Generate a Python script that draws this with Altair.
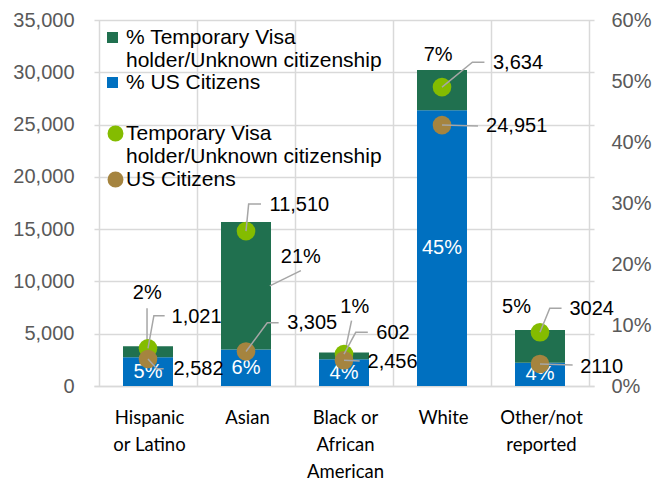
import altair as alt
import pandas as pd

# ---------------- data ----------------
categories = ["Hispanic or Latino", "Asian", "Black or African American", "White", "Other/not reported"]
x_tick_lines = [["Hispanic", "or Latino"], ["Asian"], ["Black or", "African", "American"], ["White"], ["Other/not", "reported"]]

us_counts = [2582, 3305, 2456, 24951, 2110]
tv_counts = [1021, 11510, 602, 3634, 3024]
us_count_labels = ["2,582", "3,305", "2,456", "24,951", "2110"]
tv_count_labels = ["1,021", "11,510", "602", "3,634", "3024"]

us_pct = [4.7, 6.0, 4.4, 45.2, 3.8]
tv_pct = [1.8, 20.9, 1.1, 6.6, 5.4]
us_pct_labels = ["5%", "6%", "4%", "45%", "4%"]
tv_pct_labels = ["2%", "21%", "1%", "7%", "5%"]

S_TV_PCT = "% Temporary Visa\nholder/Unknown citizenship"
S_US_PCT = "% US Citizens"
S_TV = "Temporary Visa\nholder/Unknown citizenship"
S_US = "US Citizens"

y_left_ticks = [0, 5000, 10000, 15000, 20000, 25000, 30000, 35000]
y_right_ticks = [0, 10, 20, 30, 40, 50, 60]

# ---------------- layout (pixel offsets of callouts, styling only) ----------------
W, H = 500, 366
N = len(categories)
kx = N / W
kl = y_left_ticks[-1] / H
kr = y_right_ticks[-1] / H

tv_count_lab_off = [(24, -31), (24, -26), (33, -21), (52, -24), (30, -23)]
us_count_lab_off = [(26, 10.5), (42, -28), (24, 1.4), (45, 0.9), (41, 3.4)]
tv_leader = [[(17, -32.6), (6, -32.6), (0, 0)], [(15.3, -27), (2.7, -27), (0, 0)],
             [(24.3, -21.7), (12, -21.7), (0, 0)], [(43.3, -24.8), (31, -24.8), (0, 0)],
             [(22, -24), (10, -24), (0, 0)]]
us_leader = [[(16, 9.8), (9, 9.8), (0, 0)], [(33.3, -28.7), (21.7, -28.7), (0, 0)],
             [(16, 0.7), (0, 0)], [(36.7, 0.9), (0, 0)], [(33.3, 1), (0, 0)]]
tv_pct_lab_off = [(-0.7, -53), (56, 34.7), (11, -45), (-4, -15), (-24, -23)]
pct_leader = {0: [(-1, -38), (-1, 0)], 1: [(56, 48.7), (24.3, 64)], 2: [(7.7, -31.8), (1, -0.8)]}

C_DKGREEN = "#20704F"
C_BLUE = "#0070C0"
C_LTGREEN = "#84BC00"
C_BROWN = "#A5843F"
C_LEADER = "#A6A6A6"
C_GRID = "#D9D9D9"
FONT = "Liberation Sans"

# ---------------- tables ----------------
bars, pct_text, pts, cnt_text, lead_l, lead_r = [], [], [], [], [], []
for i, c in enumerate(categories):
    xc = i + 0.5
    top = us_pct[i] + tv_pct[i]
    bars.append(dict(x=xc, y0=0, y1=us_pct[i], series=S_US_PCT))
    bars.append(dict(x=xc, y0=us_pct[i], y1=top, series=S_TV_PCT))
    pct_text.append(dict(x=xc, y=us_pct[i] / 2, t=us_pct_labels[i], kind="us"))
    dx, dy = tv_pct_lab_off[i]
    pct_text.append(dict(x=xc + dx * kx, y=top - dy * kr, t=tv_pct_labels[i], kind="tv"))
    for j, (px, py) in enumerate(pct_leader.get(i, [])):
        lead_r.append(dict(id=f"p{i}", seq=j, x=xc + px * kx, y=top - py * kr))

    tv_y = us_counts[i] + tv_counts[i]
    us_y = us_counts[i]
    pts.append(dict(x=xc, y=tv_y, series=S_TV))
    pts.append(dict(x=xc, y=us_y, series=S_US))
    dx, dy = tv_count_lab_off[i]
    cnt_text.append(dict(x=xc + dx * kx, y=tv_y - dy * kl, t=tv_count_labels[i]))
    dx, dy = us_count_lab_off[i]
    cnt_text.append(dict(x=xc + dx * kx, y=us_y - dy * kl, t=us_count_labels[i]))
    for j, (px, py) in enumerate(tv_leader[i]):
        lead_l.append(dict(id=f"t{i}", seq=j, x=xc + px * kx, y=tv_y - py * kl))
    for j, (px, py) in enumerate(us_leader[i]):
        lead_l.append(dict(id=f"u{i}", seq=j, x=xc + px * kx, y=us_y - py * kl))

bars_df = pd.DataFrame(bars)
pct_df = pd.DataFrame(pct_text)
pts_df = pd.DataFrame(pts)
cnt_df = pd.DataFrame(cnt_text)
lead_l_df = pd.DataFrame(lead_l)
lead_r_df = pd.DataFrame(lead_r)

# ---------------- scales / axes ----------------
label_js = "[" + ",".join("[" + ",".join("'" + s + "'" for s in lines) + "]" for lines in x_tick_lines) + "]"
x_axis = alt.Axis(values=list(range(N + 1)), grid=True, gridColor=C_GRID, gridWidth=1.5,
                  domainColor=C_GRID, domainWidth=1.5, ticks=False, title=None,
                  labelExpr=f"{label_js}[datum.value] || ''", labelOffset=W / N / 2,
                  labelFlush=False, labelOverlap=False, labelBound=False,
                  labelFont="Lato", labelFontSize=18.5, labelColor="black",
                  labelLineHeight=27, labelBaseline="top", labelPadding=22, labelAlign="center")
x_scale = alt.Scale(domain=[0, N], nice=False, zero=False)


def X(f):
    return alt.X(f"{f}:Q", scale=x_scale, axis=x_axis)


yl_scale = alt.Scale(domain=[0, y_left_ticks[-1]], nice=False)
yl_axis = alt.Axis(values=y_left_ticks, labelExpr="format(datum.value, ',')", grid=True,
                   gridColor=C_GRID, gridWidth=1.5,
                   domain=False, ticks=False, title=None, orient="left",
                   labelFont=FONT, labelFontSize=20, labelColor="#595959", labelPadding=20)
yr_scale = alt.Scale(domain=[0, y_right_ticks[-1]], nice=False)
yr_axis = alt.Axis(values=y_right_ticks, labelExpr="datum.value + '%'", grid=False,
                   domain=False, ticks=False, title=None, orient="right",
                   labelFont=FONT, labelFontSize=20, labelColor="#595959", labelPadding=17)

bar_legend = alt.Legend(title=None, orient="none", legendX=8, legendY=7, symbolType="square",
                        symbolSize=121, symbolStrokeWidth=0, labelFont=FONT, labelFontSize=21,
                        labelColor="black", labelLimit=600, labelOffset=3, rowPadding=0,
                        padding=0, labelExpr="split(datum.label, '\\n')")
pt_legend = alt.Legend(title=None, orient="none", legendX=11, legendY=103, symbolType="circle",
                       symbolSize=254, symbolStrokeWidth=0, labelFont=FONT, labelFontSize=21,
                       labelColor="black", labelLimit=600, labelOffset=0, rowPadding=1,
                       padding=0, labelExpr="split(datum.label, '\\n')")

# ---------------- right (percent) group ----------------
bar_layer = alt.Chart(bars_df).mark_bar(size=50).encode(
    x=X("x"),
    y=alt.Y("y0:Q", scale=yr_scale, axis=yr_axis),
    y2="y1:Q",
    color=alt.Color("series:N", scale=alt.Scale(domain=[S_TV_PCT, S_US_PCT], range=[C_DKGREEN, C_BLUE]),
                    legend=bar_legend),
)
us_pct_layer = alt.Chart(pct_df).transform_filter("datum.kind == 'us'").mark_text(
    font=FONT, fontSize=20, color="white", align="center", baseline="middle").encode(
    x=X("x"), y=alt.Y("y:Q", scale=yr_scale, axis=yr_axis), text="t:N")
tv_pct_layer = alt.Chart(pct_df).transform_filter("datum.kind == 'tv'").mark_text(
    font=FONT, fontSize=20, color="black", align="center", baseline="middle").encode(
    x=X("x"), y=alt.Y("y:Q", scale=yr_scale, axis=yr_axis), text="t:N")
pct_lead_layer = alt.Chart(lead_r_df).mark_line(color=C_LEADER, strokeWidth=1.5).encode(
    x=X("x"), y=alt.Y("y:Q", scale=yr_scale, axis=yr_axis), detail="id:N", order="seq:Q")

right_group = alt.layer(bar_layer, us_pct_layer, pct_lead_layer, tv_pct_layer)

# ---------------- left (count) group ----------------
pt_layer = alt.Chart(pts_df).mark_circle(size=346, opacity=1).encode(
    x=X("x"),
    y=alt.Y("y:Q", scale=yl_scale, axis=yl_axis),
    color=alt.Color("series:N", scale=alt.Scale(domain=[S_TV, S_US], range=[C_LTGREEN, C_BROWN]),
                    legend=pt_legend),
)
cnt_lead_layer = alt.Chart(lead_l_df).mark_line(color=C_LEADER, strokeWidth=1.5).encode(
    x=X("x"), y=alt.Y("y:Q", scale=yl_scale, axis=yl_axis), detail="id:N", order="seq:Q")
cnt_text_layer = alt.Chart(cnt_df).mark_text(
    font=FONT, fontSize=20, color="black", align="left", baseline="middle").encode(
    x=X("x"), y=alt.Y("y:Q", scale=yl_scale, axis=yl_axis), text="t:N")

left_group = alt.layer(pt_layer, cnt_lead_layer, cnt_text_layer)

chart = alt.layer(right_group, left_group).resolve_scale(
    y="independent", color="independent"
).properties(
    width=W, height=H,
    autosize=alt.AutoSizeParams(type="none"),
    padding={"left": 86, "top": 12, "right": 69, "bottom": 94},
    background="white",
).configure_view(strokeWidth=0)

chart.save("out.html", embed_options={"renderer": "svg", "actions": False})
